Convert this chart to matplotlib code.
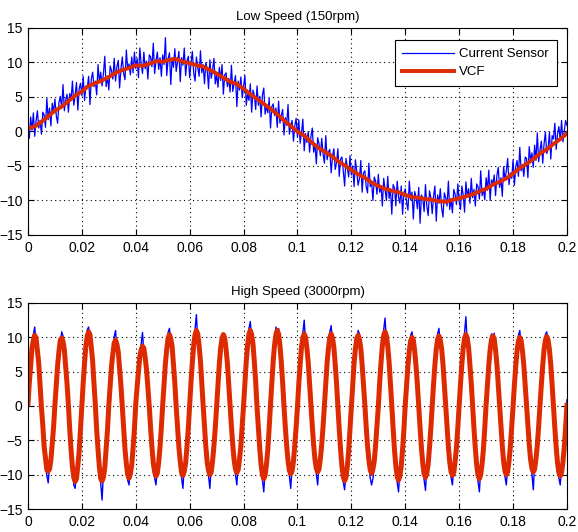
import numpy as np
import matplotlib
matplotlib.use('Agg')
from matplotlib import pyplot as plt

plt.rcParams['font.family'] = ['Liberation Sans', 'DejaVu Sans']
plt.rcParams['font.size'] = 9

# ---- low speed (150rpm), sensor sampled every 0.5 ms, VCF every 2.5 ms ----
ls_sensor = [
    0.4, -1.0, 2.1, 0.2, 2.7, -0.7, 1.5, 3.0, 0.5, 1.6, -0.4, 2.8, 2.4, 0.6, 4.8, 1.7, 3.4, 0.8, 4.1, 2.8,
    4.7, 2.3, 1.2, 4.2, 5.1, 3.4, 6.8, 3.0, 4.6, 5.4, 2.8, 5.5, 4.6, 7.3, 3.8, 5.3, 7.1, 3.1, 6.2, 7.0,
    5.2, 8.0, 4.5, 6.6, 6.3, 8.0, 3.9, 7.6, 8.6, 6.5, 7.3, 5.3, 9.7, 7.1, 8.6, 6.6, 8.4, 10.9, 6.5, 8.0,
    6.0, 9.5, 8.8, 7.6, 10.6, 7.3, 9.4, 10.3, 6.3, 9.1, 10.8, 8.4, 7.5, 11.8, 9.0, 9.8, 8.2, 10.8, 8.5, 11.5,
    9.1, 10.6, 7.8, 12.1, 9.8, 8.4, 11.5, 9.1, 10.2, 7.6, 11.1, 10.8, 9.4, 12.8, 8.4, 10.2, 11.5, 9.0, 10.7, 8.0,
    11.1, 9.7, 13.6, 8.1, 10.5, 11.4, 6.8, 10.7, 9.3, 12.0, 8.7, 10.2, 11.6, 7.2, 10.7, 9.6, 12.1, 8.1, 10.2, 10.9,
    7.8, 9.9, 11.6, 8.5, 7.3, 10.8, 9.3, 8.0, 11.7, 8.5, 9.7, 6.9, 10.0, 9.0, 6.2, 10.4, 7.7, 8.9, 10.6, 6.9,
    8.3, 6.4, 9.3, 7.4, 9.7, 5.4, 8.2, 8.5, 6.5, 7.7, 5.7, 9.6, 5.8, 7.0, 8.1, 3.6, 7.3, 6.0, 7.9, 4.9,
    6.5, 8.1, 3.8, 5.5, 4.5, 6.9, 2.8, 6.0, 5.2, 3.2, 6.6, 3.8, 5.1, 2.1, 5.3, 6.3, 2.5, 3.7, 2.7, 4.8,
    0.5, 3.6, 4.0, 2.3, 3.4, 0.6, 4.4, 1.2, 2.3, 3.2, -0.5, 2.0, 0.9, 3.9, -0.4, 0.9, 1.6, -1.4, 0.8, 1.9,
    -0.8, 1.7, -1.7, -0.2, 1.8, -2.8, -0.3, -1.6, 0.0, -3.0, -0.7, 0.5, -3.0, -1.8, -4.7, -0.9, -1.8, -3.5, -1.0, -3.2,
    -4.6, -0.6, -4.1, -3.0, -2.6, -6.0, -3.6, -2.5, -5.5, -4.5, -2.5, -6.5, -4.0, -3.7, -5.7, -7.9, -3.9, -5.3, -6.6, -3.5,
    -6.3, -5.0, -8.0, -4.1, -5.8, -7.8, -6.8, -4.2, -8.8, -6.0, -5.7, -8.0, -8.9, -4.6, -8.0, -7.3, -10.0, -6.6, -7.2, -9.1,
    -6.2, -8.8, -7.9, -10.8, -6.8, -8.4, -10.0, -6.5, -9.7, -8.3, -12.0, -7.7, -8.2, -10.8, -7.2, -9.5, -10.4, -7.9, -12.0, -8.9,
    -8.3, -10.3, -11.4, -7.2, -9.9, -8.8, -12.7, -8.7, -9.5, -11.2, -8.1, -13.3, -9.2, -9.7, -11.6, -7.7, -10.8, -12.2, -8.6, -9.6,
    -11.9, -9.4, -7.9, -13.0, -9.2, -10.4, -8.3, -11.1, -12.4, -8.9, -9.6, -10.8, -7.2, -11.3, -9.7, -11.8, -8.4, -9.1, -10.6, -7.6,
    -10.1, -11.3, -7.9, -9.2, -11.7, -7.3, -9.5, -8.3, -10.4, -6.8, -9.6, -8.4, -10.8, -7.6, -8.0, -9.8, -5.7, -9.3, -8.3, -9.9,
    -6.7, -8.5, -5.6, -10.0, -7.0, -7.7, -6.3, -9.3, -6.4, -5.2, -8.1, -6.7, -9.4, -5.1, -7.0, -5.7, -3.9, -7.7, -6.0, -6.8,
    -4.1, -7.8, -5.1, -4.2, -6.5, -2.3, -5.7, -4.8, -6.5, -3.7, -3.9, -6.7, -2.2, -4.3, -3.1, -5.2, -2.0, -4.2, -0.2, -4.4,
    -2.7, -1.4, -4.6, -1.8, -0.1, -3.2, -2.5, -0.1, -4.0, -0.6, -1.1, 1.2, -2.6, -0.4, 0.7, -1.2, 1.6, -1.5, 0.0, 1.6,
    0.9,
]
ls_vcf = [
    0.5, 0.7, 1.4, 2.2, 3.0, 3.6, 4.4, 5.2, 5.8, 6.6, 7.0, 7.4, 7.9, 8.5, 8.9, 9.2, 9.6, 9.5, 9.8, 10.2,
    10.1, 10.4, 10.5, 10.1, 9.9, 9.6, 9.4, 8.9, 8.4, 7.8, 7.2, 6.9, 6.2, 5.4, 4.7, 4.0, 3.3, 2.5, 1.6, 0.8,
    0.0, -0.6, -1.5, -2.3, -2.9, -3.5, -4.3, -4.9, -5.6, -6.2, -6.7, -7.4, -7.9, -8.3, -8.6, -8.8, -9.2, -9.5, -9.6, -9.8,
    -9.9, -10.1, -10.2, -9.9, -9.7, -9.4, -9.1, -8.7, -8.3, -7.7, -7.3, -6.8, -6.1, -5.3, -4.7, -4.0, -3.2, -2.6, -1.8, -1.1,
    -0.3,
]

# ---- high speed (3000rpm), both every 0.5 ms ----
hs_sensor = [
    0.9, 2.6, 6.9, 7.7, 10.4, 11.5, 9.2, 8.9, 5.1, 3.8, 0.5, -3.9, -4.8, -8.7, -10.1, -11.2, -8.6, -8.8, -4.7, -2.2,
    -0.6, 3.9, 5.1, 9.1, 8.9, 10.8, 10.2, 7.3, 6.6, 2.3, 0.9, -2.5, -7.4, -8.0, -11.5, -12.0, -9.7, -9.6, -5.8, -4.1,
    0.7, 2.5, 7.2, 8.0, 11.1, 11.5, 9.5, 9.5, 5.6, 4.0, -0.7, -2.7, -7.3, -9.8, -11.3, -13.7, -9.6, -8.1, -7.1, -2.6,
    0.9, 2.1, 6.6, 6.9, 10.1, 11.0, 8.3, 8.7, 4.7, 3.8, 0.6, -4.0, -5.5, -9.3, -10.8, -11.5, -9.1, -7.8, -6.9, -2.5,
    -0.5, 3.6, 4.2, 8.0, 9.0, 10.7, 7.6, 7.8, 4.5, 3.4, 0.8, -2.4, -6.8, -7.5, -10.5, -11.5, -9.0, -9.0, -5.2, -3.9,
    1.0, 2.4, 7.0, 7.5, 10.7, 11.3, 9.0, 9.4, 5.2, 4.1, 0.7, -3.9, -5.2, -8.9, -10.5, -12.0, -8.7, -9.1, -5.1, -2.4,
    -0.6, 4.3, 5.6, 9.7, 11.2, 13.3, 9.7, 9.6, 5.8, 4.1, -0.7, -2.2, -6.7, -7.4, -10.2, -12.0, -8.8, -8.8, -5.0, -4.0,
    0.7, 2.4, 6.9, 7.7, 10.5, 9.6, 10.5, 9.1, 5.4, 3.9, -0.6, -3.8, -4.9, -8.7, -10.0, -11.5, -8.5, -8.5, -5.0, -3.7,
    0.9, 2.6, 7.3, 8.0, 11.3, 12.3, 9.6, 9.8, 5.6, 4.3, 0.6, -4.1, -5.4, -9.4, -10.8, -12.5, -9.3, -9.3, -5.5, -4.0,
    -0.6, 4.1, 5.8, 9.7, 11.5, 10.2, 11.3, 8.0, 7.2, 2.6, 0.8, -2.3, -6.6, -7.2, -10.2, -12.0, -8.7, -8.9, -4.9, -3.9,
    0.7, 2.5, 6.9, 7.8, 10.7, 12.5, 9.2, 9.2, 5.5, 4.0, -0.7, -3.7, -4.9, -8.6, -9.9, -11.5, -8.4, -8.5, -4.8, -3.8,
    1.0, 2.4, 7.1, 7.6, 10.8, 11.7, 9.1, 9.4, 5.3, 4.1, 0.7, -4.2, -5.6, -9.6, -11.1, -12.2, -9.6, -9.6, -5.7, -4.1,
    -0.7, 3.9, 5.4, 9.1, 9.0, 11.0, 10.5, 7.6, 6.8, 2.4, -0.6, -2.2, -6.6, -8.7, -10.5, -11.5, -10.6, -8.8, -4.9, -3.8,
    0.7, 2.6, 7.1, 8.0, 11.1, 12.8, 9.4, 9.5, 5.6, 4.1, -0.7, -4.1, -5.6, -9.5, -11.1, -12.5, -9.4, -9.6, -5.5, -2.6,
    1.0, 2.2, 6.7, 7.3, 10.3, 10.8, 8.8, 8.8, 5.0, 3.9, 0.7, -4.0, -5.3, -9.2, -10.7, -12.3, -9.0, -9.3, -5.2, -4.0,
    -0.8, 4.0, 5.2, 9.1, 10.5, 11.3, 8.8, 9.1, 5.3, 3.9, 1.0, -2.3, -6.7, -7.4, -10.4, -11.5, -8.9, -8.9, -5.2, -3.9,
    0.9, 2.4, 6.9, 7.6, 10.7, 13.0, 9.0, 9.3, 5.2, 4.1, 0.7, -4.1, -5.4, -9.4, -10.9, -12.5, -9.2, -9.3, -5.5, -2.4,
    -0.6, 3.9, 5.2, 9.0, 10.5, 9.4, 10.6, 7.4, 6.9, 2.3, 0.8, -3.9, -5.0, -8.9, -10.3, -11.5, -8.8, -8.8, -5.1, -3.8,
    0.7, 2.3, 6.6, 7.3, 10.3, 11.0, 8.7, 8.8, 5.1, 3.8, -0.7, -3.8, -4.8, -8.6, -9.9, -12.2, -8.4, -8.5, -4.9, -3.7,
    1.0, 2.3, 6.7, 7.4, 10.4, 10.8, 8.8, 9.0, 5.2, 3.9, 0.7, -4.0, -5.2, -9.1, -10.5, -11.5, -8.9, -9.0, -5.2, -2.3,
    0.9,
]
hs_vcf = [
    0.3, 3.4, 5.8, 8.5, 9.6, 10.3, 9.9, 8.0, 6.2, 3.0, -0.2, -2.8, -5.9, -7.6, -9.3, -9.5, -9.2, -7.9, -5.4, -3.1,
    0.2, 3.0, 5.9, 8.0, 9.6, 9.9, 9.4, 8.2, 5.7, 3.2, 0.1, -3.4, -6.5, -8.9, -10.4, -11.0, -10.6, -8.7, -6.6, -3.3,
    -0.1, 3.4, 6.3, 8.8, 10.2, 10.8, 10.4, 8.6, 6.5, 3.2, 0.2, -3.5, -6.4, -8.9, -10.6, -10.9, -10.4, -9.0, -6.3, -3.5,
    0.1, 2.9, 5.8, 7.6, 9.2, 9.6, 9.0, 7.9, 5.5, 3.0, -0.2, -3.2, -6.3, -8.4, -10.0, -10.5, -9.9, -8.6, -6.1, -3.3,
    0.3, 2.8, 5.0, 7.2, 8.2, 8.7, 8.4, 7.0, 5.3, 2.6, 0.0, -3.2, -6.0, -8.3, -9.6, -10.2, -9.8, -8.2, -6.0, -3.1,
    0.2, 3.2, 6.2, 8.3, 9.9, 10.4, 9.8, 8.6, 6.0, 3.3, -0.1, -3.1, -6.0, -8.1, -9.7, -10.1, -9.5, -8.3, -5.9, -3.2,
    0.2, 3.5, 6.4, 8.9, 10.4, 11.0, 10.5, 8.8, 6.6, 3.3, 0.1, -3.0, -5.9, -8.2, -9.4, -10.0, -9.6, -8.0, -5.8, -3.2,
    -0.1, 3.2, 6.1, 8.5, 9.8, 10.4, 9.9, 8.3, 6.2, 3.1, 0.2, -3.0, -5.7, -7.9, -9.2, -9.7, -9.3, -7.7, -5.8, -2.9,
    0.1, 3.4, 6.5, 8.8, 10.5, 11.0, 10.4, 9.0, 6.4, 3.5, -0.2, -3.3, -6.2, -8.6, -10.0, -10.6, -10.1, -8.5, -6.3, -3.2,
    0.2, 3.3, 6.6, 8.9, 10.4, 11.0, 10.5, 8.8, 6.4, 3.4, 0.0, -3.1, -5.8, -8.0, -9.4, -9.9, -9.5, -8.1, -5.7, -3.1,
    -0.1, 3.3, 6.1, 8.6, 9.9, 10.5, 10.0, 8.4, 6.3, 3.2, 0.1, -2.9, -5.7, -7.8, -9.1, -9.6, -9.2, -7.7, -5.6, -3.0,
    0.2, 3.2, 6.3, 8.4, 10.0, 10.5, 9.9, 8.6, 6.1, 3.3, -0.1, -3.4, -6.4, -8.8, -10.3, -10.9, -10.4, -8.8, -6.5, -3.3,
    0.1, 3.1, 6.2, 8.3, 9.8, 10.3, 9.7, 8.4, 6.0, 3.2, 0.2, -3.0, -5.8, -7.9, -9.3, -9.8, -9.2, -8.0, -5.7, -3.0,
    -0.1, 3.4, 6.3, 8.8, 10.3, 10.8, 10.2, 8.7, 6.4, 3.3, 0.1, -3.3, -6.4, -8.7, -10.3, -10.8, -10.2, -8.8, -6.3, -3.4,
    0.2, 3.0, 5.9, 8.1, 9.5, 10.0, 9.6, 8.0, 5.8, 3.1, -0.1, -3.2, -6.1, -8.4, -9.9, -10.4, -9.8, -8.5, -6.0, -3.2,
    0.0, 3.2, 6.0, 8.3, 9.7, 10.2, 9.6, 8.3, 6.1, 3.1, 0.2, -3.1, -5.9, -8.2, -9.6, -10.1, -9.7, -8.1, -6.0, -3.1,
    0.1, 3.2, 6.1, 8.4, 9.9, 10.4, 9.8, 8.5, 6.0, 3.3, -0.1, -3.3, -6.2, -8.6, -10.1, -10.6, -10.0, -8.5, -6.3, -3.2,
    0.2, 3.1, 6.0, 8.2, 9.7, 10.2, 9.8, 8.2, 6.1, 3.1, 0.0, -3.1, -5.8, -8.1, -9.5, -10.0, -9.6, -8.0, -5.9, -3.0,
    -0.1, 3.1, 5.8, 8.1, 9.5, 10.0, 9.5, 8.0, 5.9, 3.0, 0.1, -3.0, -5.6, -7.8, -9.1, -9.6, -9.2, -7.7, -5.7, -2.9,
    0.2, 3.1, 5.9, 8.2, 9.6, 10.1, 9.6, 8.2, 6.0, 3.1, -0.1, -3.2, -6.0, -8.3, -9.7, -10.2, -9.7, -8.2, -6.0, -3.1,
    0.1,
]

titles = ['Low Speed (150rpm)', 'High Speed (3000rpm)']
legend_labels = ['Current Sensor', 'VCF']
xticks = [0, 0.02, 0.04, 0.06, 0.08, 0.1, 0.12, 0.14, 0.16, 0.18, 0.2]
xticklabels = ['0', '0.02', '0.04', '0.06', '0.08', '0.1', '0.12', '0.14', '0.16', '0.18', '0.2']
yticks = [-15, -10, -5, 0, 5, 10, 15]

BLUE = '#0000FF'
RED = '#DD2A00'

t_sens = np.linspace(0, 0.2, len(ls_sensor))
t_ls_vcf = np.linspace(0, 0.2, len(ls_vcf))
t_hs = np.linspace(0, 0.2, len(hs_sensor))

fig = plt.figure(figsize=(5.78, 5.32), dpi=100)
ax1 = fig.add_axes([0.0484, 0.5583, 0.9325, 0.3891])
ax2 = fig.add_axes([0.0484, 0.0432, 0.9325, 0.3873])

ax1.plot(t_sens, ls_sensor, color=BLUE, lw=0.9, label=legend_labels[0])
ax1.plot(t_ls_vcf, ls_vcf, color=RED, lw=2.8, label=legend_labels[1])

ax2.plot(t_hs, hs_sensor, color=BLUE, lw=1.0)
ax2.plot(t_hs, hs_vcf, color=RED, lw=3.6)

for ax, title in zip([ax1, ax2], titles):
    ax.set_xlim(0, 0.2)
    ax.set_ylim(-15, 15)
    ax.set_xticks(xticks)
    ax.set_xticklabels(xticklabels)
    ax.set_yticks(yticks)
    ax.tick_params(direction='in', top=True, right=True, length=4, width=0.8,
                   labelsize=10, pad=4)
    ax.grid(True, color='black', linestyle=(0, (1, 3)), linewidth=0.8)
    for s in ax.spines.values():
        s.set_linewidth(0.8)
    ax.set_title(title, fontsize=9.5, pad=6)

leg = ax1.legend(loc='upper right', bbox_to_anchor=(0.981, 0.942), borderaxespad=0,
                 fontsize=9.5, fancybox=False, framealpha=1, edgecolor='black',
                 handlelength=3.9, handletextpad=0.4, borderpad=0.6,
                 labelspacing=0.45)
leg.get_frame().set_linewidth(0.8)

plt.savefig('out.png', dpi=100)
